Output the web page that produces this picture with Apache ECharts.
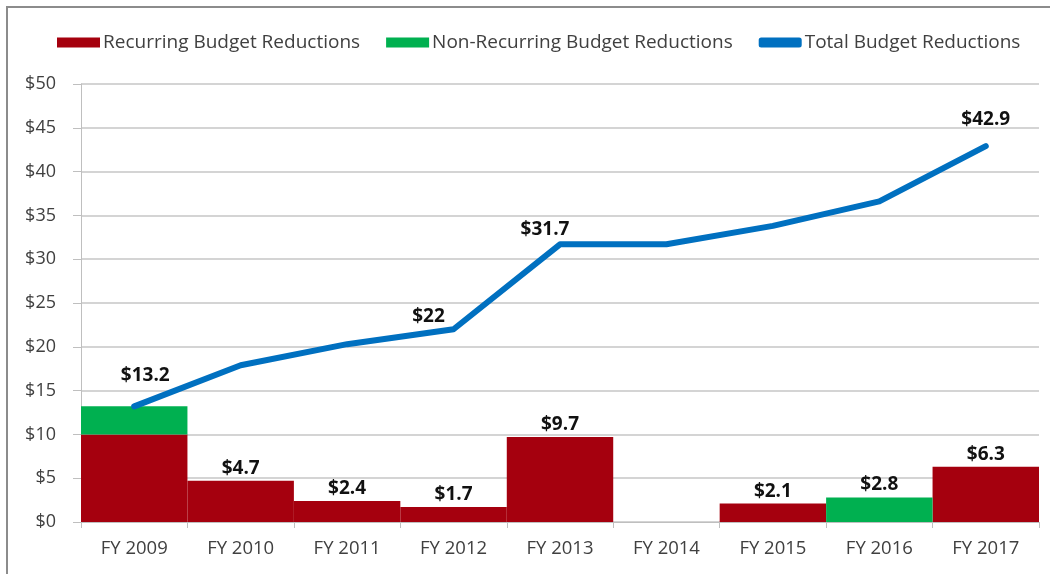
<!DOCTYPE html>
<html>
<head>
<meta charset="utf-8">
<script src="https://cdn.jsdelivr.net/npm/echarts@6/dist/echarts.min.js"></script>
<style>
  html, body { margin: 0; padding: 0; background: #fff; }
  #chart { width: 1050px; height: 574px; }
</style>
</head>
<body>
<div id="chart"></div>
<script>
const years = ['FY 2009', 'FY 2010', 'FY 2011', 'FY 2012', 'FY 2013', 'FY 2014', 'FY 2015', 'FY 2016', 'FY 2017'];
const recurring = [10, 4.7, 2.4, 1.7, 9.7, 0, 2.1, 0, 6.3];
const nonRecurring = [3.2, 0, 0, 0, 0, 0, 0, 2.8, 0];
const total = [13.2, 17.9, 20.3, 22, 31.7, 31.7, 33.8, 36.6, 42.9];
const yTicks = [0, 5, 10, 15, 20, 25, 30, 35, 40, 45, 50];

// which points get a data label, and how far Excel nudged it
const recurringLabelled = [1, 2, 3, 4, 6, 8];
const nonRecurringLabelled = [7];
const totalLabelOffsets = { 0: [11, -18], 3: [-25, 0], 4: [-15, -2], 8: [0, -14] };

const FONT = '"Open Sans", Lato, sans-serif';
const money = v => '$' + v;

const labelStyle = { show: true, position: 'top', distance: 3, color: '#111', fontWeight: 'bold', fontSize: 19, fontFamily: FONT, formatter: p => money(p.value) };

const chart = echarts.init(document.getElementById('chart'));
chart.setOption({
  animation: false,
  textStyle: { fontFamily: FONT },
  graphic: [{ type: 'rect', shape: { x: 7, y: 7, width: 1060, height: 580 }, style: { fill: 'none', stroke: '#8c8c8c', lineWidth: 2 }, silent: true }],
  legend: {
    top: 28, left: 52, itemWidth: 43, itemHeight: 10, itemGap: 26,
    textStyle: { color: '#404040', fontSize: 19, fontFamily: FONT, padding: [0, 0, 0, -2] },
    data: [
      { name: 'Recurring Budget Reductions', icon: 'rect' },
      { name: 'Non-Recurring Budget Reductions', icon: 'rect' },
      { name: 'Total Budget Reductions', icon: 'roundRect' }
    ]
  },
  grid: { left: 81, right: 11, top: 84, bottom: 52 },
  xAxis: {
    type: 'category', data: years,
    axisLine: { lineStyle: { color: '#bfbfbf', width: 1 } },
    axisTick: { show: true, length: 6, lineStyle: { color: '#bfbfbf' } },
    axisLabel: { color: '#404040', fontSize: 18.5, fontFamily: FONT, margin: 17 }
  },
  yAxis: {
    type: 'value', min: 0, max: 50, interval: 5,
    axisLine: { show: true, lineStyle: { color: '#bfbfbf', width: 1 } },
    axisTick: { show: true, length: 8, lineStyle: { color: '#bfbfbf' } },
    splitLine: { lineStyle: { color: '#d4d4d4', width: 2 } },
    axisLabel: { color: '#404040', fontSize: 18, fontFamily: FONT, margin: 25, formatter: v => yTicks.includes(v) ? money(v) : '' }
  },
  series: [
    {
      name: 'Recurring Budget Reductions', type: 'bar', stack: 'b', barCategoryGap: 0,
      itemStyle: { color: '#a5000e' },
      data: recurring.map((v, i) => ({ value: v, label: recurringLabelled.includes(i) ? labelStyle : { show: false } }))
    },
    {
      name: 'Non-Recurring Budget Reductions', type: 'bar', stack: 'b', barCategoryGap: 0,
      itemStyle: { color: '#00b050' },
      data: nonRecurring.map((v, i) => ({ value: v, label: nonRecurringLabelled.includes(i) ? labelStyle : { show: false } }))
    },
    {
      name: 'Total Budget Reductions', type: 'line', symbol: 'circle', symbolSize: 1, showSymbol: true, z: 5,
      itemStyle: { color: '#0070c0' },
      lineStyle: { color: '#0070c0', width: 6, cap: 'round', join: 'round' },
      data: total.map((v, i) => ({
        value: v,
        label: totalLabelOffsets[i] ? Object.assign({}, labelStyle, { offset: totalLabelOffsets[i] }) : { show: false }
      }))
    }
  ]
});
</script>
</body>
</html>
